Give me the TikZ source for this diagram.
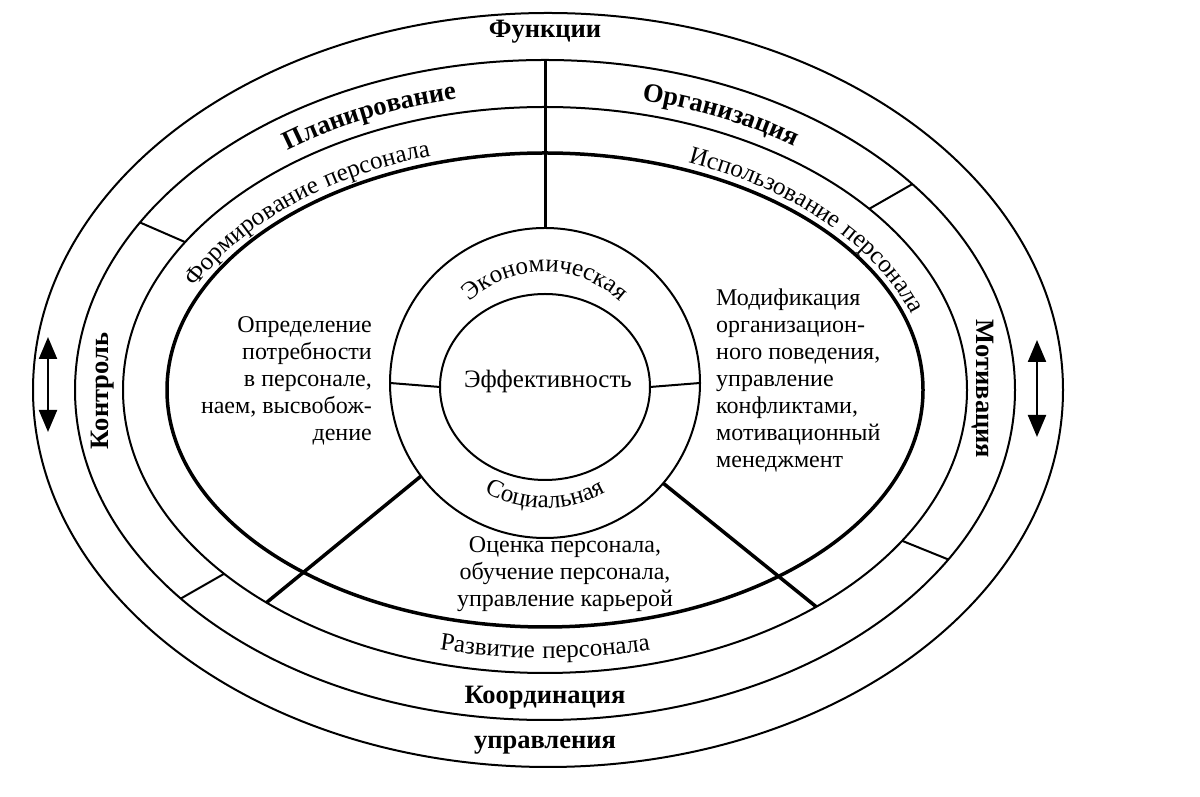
\documentclass[tikz,border=0pt]{standalone}
\usepackage{fontspec}
\setmainfont{Liberation Serif}
\usetikzlibrary{decorations.text,arrows.meta,calc}
\newcommand\mycurvefont{\fontsize{25}{25}\selectfont\addfontfeatures{LetterSpace=5}}
\newcommand\mycurvebold{\fontsize{26.5}{26.5}\selectfont\bfseries}
\tikzset{
  ring/.style={line width=2pt},
  thickring/.style={line width=3.5pt},
  sepline/.style={line width=2pt},
  thicksep/.style={line width=3.5pt},
  fnlabel/.style={font=\fontsize{26.5}{30}\selectfont\bfseries, inner sep=0pt},
  bodytext/.style={font=\fontsize{24}{27}\selectfont, inner sep=0pt},
  dblarrow/.style={line width=2.2pt, {Triangle[width=18pt,length=22pt]}-{Triangle[width=18pt,length=22pt]}},
}
\begin{document}
\begin{tikzpicture}[x=1pt,y=1pt]
\useasboundingbox (0,0) rectangle (1200,797);
\fill[white] (0,0) rectangle (1200,797);
% centres
\coordinate (E1c) at (548,407);
\coordinate (E) at (545,407);
\coordinate (C) at (545,414);
\coordinate (D) at (545,410);
% ellipses
\draw[ring] (E1c) ellipse [x radius=515pt, y radius=377pt];
\draw[ring] (E) ellipse [x radius=470pt, y radius=330pt];
\draw[ring] (E) ellipse [x radius=422pt, y radius=283pt];
\draw[thickring] (E) ellipse [x radius=378pt, y radius=237pt];
% central rings
\draw[ring] (C) circle [radius=155pt];
\draw[ring] (D) ellipse [x radius=105pt, y radius=93pt];
% radial line points
\coordinate (topA) at ($(E)+(90:470pt and 330pt)$);
\coordinate (topB) at ($(C)+(90:155pt)$);
\coordinate (ulA) at ($(E)+(149.5:470pt and 330pt)$);
\coordinate (ulB) at ($(E)+(148.5:422pt and 283pt)$);
\coordinate (urA) at ($(E)+(38.6:470pt and 330pt)$);
\coordinate (urB) at ($(E)+(39.8:422pt and 283pt)$);
\coordinate (llA) at ($(E)+(219.2:470pt and 330pt)$);
\coordinate (llB) at ($(E)+(220.5:422pt and 283pt)$);
\coordinate (lrA) at ($(E)+(329.1:470pt and 330pt)$);
\coordinate (lrB) at ($(E)+(327.8:422pt and 283pt)$);
\coordinate (tlA) at ($(C)+(216.9:155pt)$);
\coordinate (tlB) at ($(E)+(228.7:422pt and 283pt)$);
\coordinate (trA) at ($(C)+(319.7:155pt)$);
\coordinate (trB) at ($(E)+(310:422pt and 283pt)$);
\coordinate (tkLa) at ($(C)+(180:155pt)$);
\coordinate (tkLb) at ($(D)+(180:105pt and 93pt)$);
\coordinate (tkRa) at ($(C)+(0:155pt)$);
\coordinate (tkRb) at ($(D)+(0:105pt and 93pt)$);
\draw[line width=3pt] (topA) -- (topB);
\draw[sepline] (ulA) -- (ulB);
\draw[sepline] (urA) -- (urB);
\draw[sepline] (llA) -- (llB);
\draw[sepline] (lrA) -- (lrB);
\draw[thicksep] (tlA) -- (tlB);
\draw[thicksep] (trA) -- (trB);
\draw[sepline] (tkLa) -- (tkLb);
\draw[sepline] (tkRa) -- (tkRb);
% arrows
\coordinate (la1) at (48,460);
\coordinate (la2) at (48,365);
\coordinate (ra1) at (1037,457);
\coordinate (ra2) at (1037,360);
\draw[dblarrow] (la1) -- (la2);
\draw[dblarrow] (ra1) -- (ra2);
% straight labels
\node[fnlabel] (funk) at (545,765) {Функции};
\node[fnlabel] (upr) at (545,52) {управления};
\node[fnlabel] (koord) at (545,99) {Координация};
\node[fnlabel, rotate=90] (kontr) at (103,406) {Контроль};
\node[fnlabel, rotate=-90] (motiv) at (983,408) {Мотивация};
% curved labels
\path[decorate, decoration={text along path, text align=center,
  text={|\mycurvebold|Планирование}}]
  ($(E)+(142:436pt and 297pt)$) arc[start angle=142, end angle=88, x radius=436pt, y radius=297pt];
\path[decorate, decoration={text along path, text align=center,
  text={|\mycurvebold|Организация}}]
  ($(E)+(92:436pt and 297pt)$) arc[start angle=92, end angle=38, x radius=436pt, y radius=297pt];
\path[decorate, decoration={text along path, text align=center,
  text={|\mycurvefont|Формирование персонала}}]
  ($(E)+(178:385pt and 245pt)$) arc[start angle=178, end angle=92, x radius=385pt, y radius=245pt];
\path[decorate, decoration={text along path, text align=center,
  text={|\mycurvefont|Использование персонала}}]
  ($(E)+(84:385pt and 245pt)$) arc[start angle=84, end angle=-6, x radius=385pt, y radius=245pt];
\path[decorate, decoration={text along path, text align=center,
  text={|\mycurvefont|Развитие персонала}}]
  ($(E)+(240:430pt and 268pt)$) arc[start angle=240, end angle=300, x radius=430pt, y radius=268pt];
\path[decorate, decoration={text along path, text align=center,
  text={|\mycurvefont|Экономическая}}]
  ($(C)+(170:111pt)$) arc[start angle=170, end angle=10, radius=111pt];
\path[decorate, decoration={text along path, text align=center,
  text={|\mycurvefont|Социальная}}]
  ($(C)+(200:125pt)$) arc[start angle=200, end angle=340, radius=125pt];
% sector texts
\node[bodytext, align=right, anchor=east] (lefttxt) at (372,416)
  {Определение\\потребности\\в персонале,\\наем, высвобож-\\дение};
\node[bodytext, align=left, anchor=west] (righttxt) at (716,416)
  {Модификация\\организацион-\\ного поведения,\\управление\\конфликтами,\\мотивационный\\менеджмент};
\node[bodytext, align=center] (bottomtxt) at (565,223)
  {Оценка персонала,\\обучение персонала,\\управление карьерой};
\node[font=\fontsize{25}{27}\selectfont, inner sep=0pt] (eff) at (548,416) {Эффективность};
\end{tikzpicture}
\end{document}
